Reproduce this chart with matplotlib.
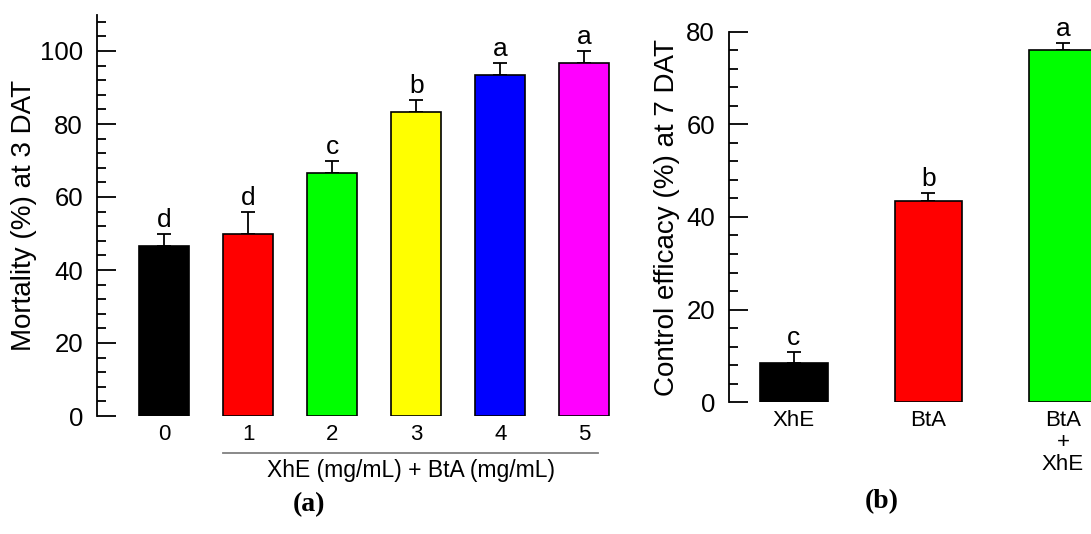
import numpy as np
import matplotlib
matplotlib.use("Agg")
import matplotlib.pyplot as plt
from matplotlib.ticker import MultipleLocator

plt.rcParams['font.family'] = ['Liberation Sans', 'DejaVu Sans']

# panel (a) data
doses = ['0', '1', '2', '3', '4', '5']
mortality = [46.7, 50.0, 66.7, 83.3, 93.3, 96.7]
mortality_err = [3.3, 5.8, 3.3, 3.3, 3.3, 3.3]
mortality_letters = ['d', 'd', 'c', 'b', 'a', 'a']
colors_a = ['#000000', '#ff0000', '#00ff00', '#ffff00', '#0000ff', '#ff00ff']

# panel (b) data
treatments = ['XhE', 'BtA', 'BtA\n+\nXhE']
efficacy = [8.5, 43.5, 76.0]
efficacy_err = [2.3, 1.6, 1.6]
efficacy_letters = ['c', 'b', 'a']
colors_b = ['#000000', '#ff0000', '#00ff00']

W, H = 1091, 534
fig = plt.figure(figsize=(W / 100, H / 100), dpi=100)

ax1 = fig.add_axes([97 / W, 118 / H, 537.6 / W, 401.5 / H])
ax2 = fig.add_axes([729 / W, 132 / H, 414.7 / W, 370 / H])


def draw_panel(ax, labels, vals, errs, letters, colors, width, xlim, ylim, ylabel, labelx):
    x = np.arange(len(vals))
    ax.bar(x, vals, width=width, color=colors, edgecolor='black', linewidth=1.2, zorder=2)
    ax.errorbar(x, vals, yerr=[np.zeros(len(errs)), errs], fmt='none', ecolor='black',
                elinewidth=1.3, capsize=5, capthick=1.3, zorder=1)
    for xi, v, e, t in zip(x, vals, errs, letters):
        ax.annotate(t, (xi, v + e), xytext=(0, 5), textcoords='offset points',
                    ha='center', va='baseline', fontsize=19, annotation_clip=False)
    ax.set_xlim(*xlim)
    ax.set_ylim(*ylim)
    ax.set_xticks(x)
    ax.set_xticklabels(labels, fontsize=16, va='top', linespacing=1.05)
    for s in ['top', 'right', 'bottom']:
        ax.spines[s].set_visible(False)
    ax.spines['left'].set_linewidth(1.3)
    ax.yaxis.set_major_locator(MultipleLocator(20))
    ax.yaxis.set_minor_locator(MultipleLocator(4))
    ax.tick_params(axis='y', which='major', direction='in', length=14, width=1.3,
                   pad=10, labelsize=18.5)
    ax.tick_params(axis='y', which='minor', direction='in', length=6.5, width=1.3)
    ax.tick_params(axis='x', length=0, pad=6)
    ax.set_ylabel(ylabel, fontsize=20)
    ax.yaxis.set_label_coords(labelx, 0.5)


draw_panel(ax1, doses, mortality, mortality_err, mortality_letters, colors_a, 0.6,
           (-0.8, 5.6), (0, 110), 'Mortality (%) at 3 DAT', -0.112)
draw_panel(ax2, treatments, efficacy, efficacy_err, efficacy_letters, colors_b, 0.5,
           (-0.483, 2.6), (0, 80), 'Control efficacy (%) at 7 DAT', -0.118)

# group bracket under doses 1-5
trans = ax1.get_xaxis_transform()
ax1.plot([0.70, 5.17], [-0.092, -0.092], color='#808080', linewidth=1.3,
         transform=trans, clip_on=False)
ax1.text(2.935, -0.135, 'XhE (mg/mL) + BtA (mg/mL)', transform=trans,
         ha='center', va='center', fontsize=16.5)

fig.text(309 / W, (H - 505) / H, '(a)', ha='center', va='center', fontsize=20,
         family=['Liberation Serif', 'DejaVu Serif'], weight='bold')
fig.text(882 / W, (H - 502) / H, '(b)', ha='center', va='center', fontsize=20,
         family=['Liberation Serif', 'DejaVu Serif'], weight='bold')

fig.savefig('out.png', dpi=100)
